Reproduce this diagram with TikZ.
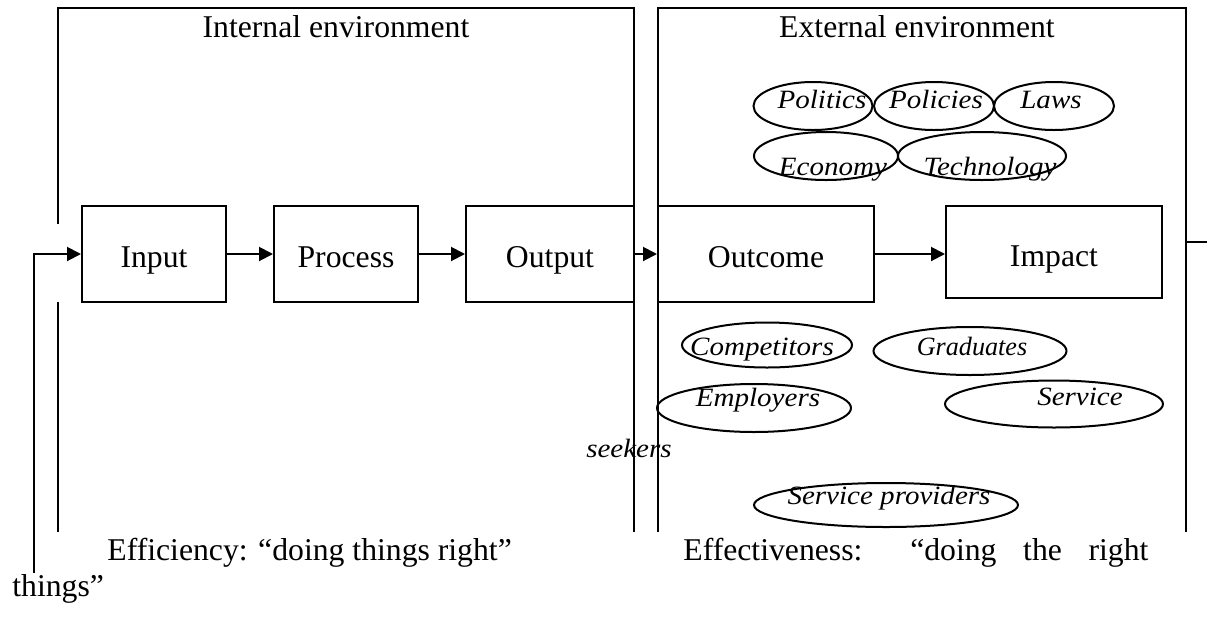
\documentclass[tikz,border=0pt]{standalone}
\usepackage{fontspec}
\setmainfont{Liberation Serif}
\newfontfamily\ovalfont{Liberation Serif}[FakeStretch=1.1]
\usetikzlibrary{shapes.geometric,arrows.meta}

\begin{document}
\begin{tikzpicture}[x=0.5pt,y=-0.5pt]
\tikzset{every node/.style={font=\fontsize{15.85pt}{19pt}\selectfont}}
\tikzset{stage/.style={draw, line width=1pt, rectangle, inner sep=0pt, minimum width=72pt, minimum height=48pt, text height=13pt, text depth=0pt}}
\tikzset{oval/.style={draw, line width=1pt, ellipse, inner sep=0pt}}
\tikzset{otext/.style={anchor=base, inner sep=0pt, font=\ovalfont\fontsize{13.2pt}{16pt}\selectfont\itshape}}
\tikzset{frame/.style={line width=1pt}}
\tikzset{flow/.style={line width=1pt, -{Triangle[length=7pt,width=7pt]}}}
\useasboundingbox (0,0) rectangle (1207,617);

% the two environments
\draw[frame] (58,224) -- (58,8) -- (634,8) -- (634,532);
\draw[frame] (58,302) -- (58,532);
\draw[frame] (658,532) -- (658,8) -- (1186,8) -- (1186,532);
\coordinate (stub-a) at (1186,242);
\coordinate (stub-b) at (1207,242);
\draw[frame] (stub-a) -- (stub-b);
\node[anchor=base] (intenv) at (336,37) {Internal environment};
\node[anchor=base] (extenv) at (917,37) {External environment};

% the chain
\node[stage] (input) at (154,254) {Input};
\node[stage] (process) at (346,254) {Process};
\node[stage, minimum width=84pt] (output) at (550,254) {Output};
\node[stage, minimum width=108pt] (outcome) at (766,254) {Outcome};
\node[stage, minimum width=108pt, minimum height=46pt, text height=14pt] (impact) at (1054,252) {Impact};

\coordinate (loop) at (34,573);
\draw[flow] (loop) |- (input.west);
\draw[flow] (input) -- (process);
\draw[flow] (process) -- (output);
\draw[flow] (output) -- (outcome);
\draw[flow] (outcome.east) -- (outcome.east -| impact.west);

% external factors
\node[oval, minimum width=59.5pt, minimum height=24pt] (politics) at (813,106) {};
\node[otext] (politics-t) at (822,108) {Politics};
\node[oval, minimum width=60pt, minimum height=24pt] (policies) at (934,106) {};
\node[otext] (policies-t) at (936,108) {Policies};
\node[oval, minimum width=60pt, minimum height=24pt] (laws) at (1054,106) {};
\node[otext] (laws-t) at (1051,108) {Laws};
\node[oval, minimum width=72pt, minimum height=24pt] (economy) at (826,156) {};
\node[otext] (economy-t) at (833,175) {Economy};
\node[oval, minimum width=84pt, minimum height=24pt] (technology) at (982,156) {};
\node[otext] (technology-t) at (990,175) {Technology};

% stakeholders
\node[oval, minimum width=85pt, minimum height=22.5pt] (competitors) at (767,345) {};
\node[otext] (competitors-t) at (762,355) {Competitors};
\node[oval, minimum width=96.5pt, minimum height=24pt] (graduates) at (970,351) {};
\node[otext] (graduates-t) at (972,355) {\scalebox{0.9}[1]{Graduates}};
\node[oval, minimum width=97pt, minimum height=24pt] (employers) at (754,408) {};
\node[otext] (employers-t) at (758,406) {Employers};
\node[oval, minimum width=109pt, minimum height=23.5pt] (service) at (1054,404) {};
\node[otext] (service-t) at (1080,405) {Service};
\node[otext] (seekers-t) at (629,457) {seekers};
\node[oval, minimum width=132pt, minimum height=22pt] (providers) at (886,505) {};
\node[otext] (providers-t) at (889,504) {Service providers};

% captions
\node[anchor=base west, inner sep=0pt] (efficiency) at (107,560) {Efficiency: “doing things right”};
\node[anchor=base west, inner sep=0pt] (effectiveness) at (683,560) {\makebox[232.5pt][s]{Effectiveness: “doing the right}};
\node[anchor=base west, inner sep=0pt] (things) at (12,596) {things”};
\end{tikzpicture}
\end{document}
